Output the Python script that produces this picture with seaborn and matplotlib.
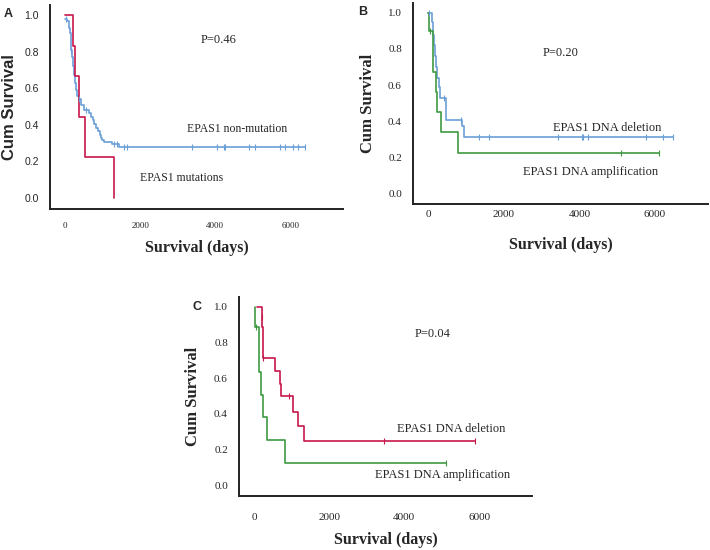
#!/usr/bin/env python
"""
Kaplan-Meier style survival curves for EPAS1 groups (three panels).
"""

import matplotlib
matplotlib.use('Agg')
import matplotlib.pyplot as plt
import seaborn as sns
import numpy as np
import pandas as pd

# ---- data (step times in days, survival after step) ----
# Panel A
a_nonmut_t = [0, 60, 110, 130, 150, 170, 190, 210, 230, 260, 290, 330, 370, 430, 500,
              640, 700, 740, 780, 830, 880, 920, 950, 990, 1030, 1250, 1440, 6390]
a_nonmut_s = [0.978, 0.966, 0.93, 0.90, 0.86, 0.81, 0.77, 0.72, 0.672, 0.63, 0.59, 0.555,
              0.54, 0.51, 0.481, 0.465, 0.445, 0.425, 0.405, 0.385, 0.365, 0.345, 0.33,
              0.318, 0.305, 0.295, 0.28, 0.28]
a_nonmut_cens = [30, 170, 380, 560, 1300, 1380, 1560, 1650, 3390, 4050, 4220, 4260,
                 4900, 5060, 5720, 5860, 6080, 6190, 6390]
a_mut_t = [0, 200, 265, 360, 540, 1305]
a_mut_s = [1.0, 0.833, 0.667, 0.444, 0.222, 0.0]
a_mut_cens = []

# Panel B
b_del_t = [0, 115, 135, 155, 185, 210, 240, 275, 320, 468, 900, 953, 6470]
b_del_s = [1.0, 0.95, 0.88, 0.82, 0.76, 0.70, 0.64, 0.59, 0.53, 0.405, 0.37, 0.31, 0.31]
b_del_cens = [20, 413, 865, 1350, 1615, 3424, 4069, 4100, 4219, 5763, 6205, 6470]
b_amp_t = [0, 10, 132, 203, 230, 335, 777, 6116]
b_amp_s = [1.0, 0.9, 0.675, 0.5625, 0.45, 0.3375, 0.225, 0.225]
b_amp_cens = [60, 5100, 6116]

# Panel C
c_del_t = [70, 204, 215, 228, 240, 250, 558, 690, 717, 1035, 1177, 1320, 5894]
c_del_s = [1.0, 0.944, 0.885, 0.826, 0.767, 0.712, 0.640, 0.570, 0.498, 0.413, 0.333,
           0.25, 0.25]
c_del_cens = [205, 250, 929, 3451, 5894]
c_amp_t = [25, 27, 133, 186, 248, 354, 832, 5115]
c_amp_s = [1.0, 0.889, 0.635, 0.508, 0.381, 0.254, 0.127, 0.127]
c_amp_cens = [60, 5115]

y_ticks = [0.0, 0.2, 0.4, 0.6, 0.8, 1.0]
x_ticks = [0, 2000, 4000, 6000]

BLUE = '#6b9fd8'
RED = '#c8174c'
GREEN = '#3f9a42'
SERIF = 'Liberation Serif'
SANS = 'Liberation Sans'

sns.set_style('white')
plt.rcParams['font.family'] = [SERIF, 'DejaVu Sans']


def draw_km(ax, times, surv, cens, color):
    df = pd.DataFrame({'t': times, 's': surv})
    sns.lineplot(data=df, x='t', y='s', ax=ax, color=color, lw=1.2,
                 drawstyle='steps-post', estimator=None, sort=False)
    if cens:
        t = np.asarray(times)
        idx = np.searchsorted(t, cens, side='right') - 1
        cy = np.asarray(surv)[np.clip(idx, 0, len(surv) - 1)]
        sns.scatterplot(x=cens, y=cy, ax=ax, marker='|', s=22, color=color,
                        linewidth=0.8, zorder=3)


def style_axes(ax, ytick_font, ytick_size, xtick_size, ylabel_font, xpad, ylab_x, xlab_y):
    ax.set_xlim(-400, 7400)
    ax.set_ylim(-0.06, 1.055)
    ax.set_yticks(y_ticks)
    ax.set_yticklabels([f'{v:.1f}' for v in y_ticks], family=ytick_font, fontsize=ytick_size)
    ax.set_xticks(x_ticks)
    ax.set_xticklabels([str(v) for v in x_ticks], family=SERIF, fontsize=xtick_size)
    ax.tick_params(axis='y', length=3, width=0.8, color='#888888', pad=5)
    ax.tick_params(axis='x', length=0, pad=xpad)
    sns.despine(ax=ax)
    for sp in ['left', 'bottom']:
        ax.spines[sp].set_color('#222222')
        ax.spines[sp].set_linewidth(1.4)
    ax.set_ylabel('Cum Survival', family=ylabel_font, fontweight='bold', fontsize=12,
                  va='center')
    ax.set_xlabel('Survival (days)', family=SERIF, fontweight='bold', fontsize=11.5,
                  va='center')
    ax.yaxis.set_label_coords(ylab_x, 0.5)
    ax.xaxis.set_label_coords(0.5, xlab_y)


fig = plt.figure(figsize=(7.1, 5.5), dpi=100)

# Panel A
ax_a = fig.add_axes([50 / 710, 1 - 209 / 550, 293 / 710, 204 / 550])
draw_km(ax_a, a_nonmut_t, a_nonmut_s, a_nonmut_cens, BLUE)
draw_km(ax_a, a_mut_t, a_mut_s, a_mut_cens, RED)
style_axes(ax_a, SANS, 7.5, 6.5, SANS, 9, -0.137, -0.19)
ax_a.text(4088, 0.863, 'P=0.46', ha='center', va='center', fontsize=9)
ax_a.text(4593, 0.377, 'EPAS1 non-mutation', ha='center', va='center', fontsize=8.5)
ax_a.text(3106, 0.109, 'EPAS1 mutations', ha='center', va='center', fontsize=8.5)

# Panel B
ax_b = fig.add_axes([413 / 710, 1 - 204 / 550, 295 / 710, 201 / 550])
draw_km(ax_b, b_del_t, b_del_s, b_del_cens, BLUE)
draw_km(ax_b, b_amp_t, b_amp_s, b_amp_cens, GREEN)
style_axes(ax_b, SERIF, 8, 8, SERIF, 4, -0.153, -0.204)
ax_b.text(3513, 0.78, 'P=0.20', ha='center', va='center', fontsize=9)
ax_b.text(4731, 0.361, 'EPAS1 DNA deletion', ha='center', va='center', fontsize=9)
ax_b.text(4307, 0.119, 'EPAS1 DNA amplification', ha='center', va='center', fontsize=9)

# Panel C
ax_c = fig.add_axes([239 / 710, 1 - 496 / 550, 293 / 710, 199 / 550])
draw_km(ax_c, c_del_t, c_del_s, c_del_cens, RED)
draw_km(ax_c, c_amp_t, c_amp_s, c_amp_cens, GREEN)
style_axes(ax_c, SERIF, 8, 8, SERIF, 12, -0.157, -0.221)
ax_c.text(4761, 0.85, 'P=0.04', ha='center', va='center', fontsize=9)
ax_c.text(5248, 0.315, 'EPAS1 DNA deletion', ha='center', va='center', fontsize=9)
ax_c.text(5009, 0.056, 'EPAS1 DNA amplification', ha='center', va='center', fontsize=9)

# panel letters
for lab, px, py in [('A', 8, 14), ('B', 363, 12), ('C', 197, 307)]:
    fig.text(px / 710, 1 - py / 550, lab, family=SANS, fontweight='bold',
             fontsize=9, ha='center', va='center')

fig.savefig('out.png', dpi=100)
plt.close(fig)
